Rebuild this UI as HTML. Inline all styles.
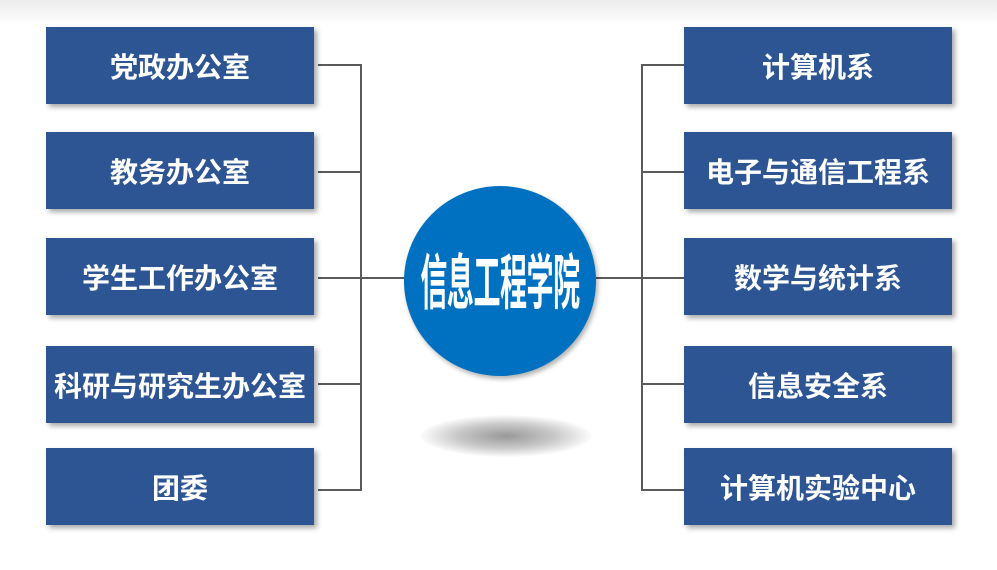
<!DOCTYPE html>
<html><head><meta charset="utf-8"><style>
body{margin:0;width:997px;height:570px;background:#fff;position:relative;overflow:hidden;font-family:"Liberation Sans","Noto Sans CJK SC",sans-serif}
.top{position:absolute;left:0;top:0;width:997px;height:26px;background:linear-gradient(#ececec,#fff)}
.b{position:absolute;width:268px;height:77px;background:#2d5593;color:#fff;font-weight:bold;font-size:28px;display:flex;align-items:center;justify-content:center;box-shadow:3px 3px 5px rgba(0,0,0,.35);white-space:nowrap}
.l{left:46px}.r{left:684px}
.c{position:absolute;left:404px;top:186px;width:192px;height:190px;border-radius:50%;background:#0070c0;box-shadow:2px 3px 5px rgba(0,0,0,.3)}
.ct{position:absolute;left:200px;top:249px;width:600px;text-align:center;color:#fff;font-weight:bold;font-size:60px;line-height:70px;white-space:nowrap}
.ct span{display:inline-block;transform:scaleX(.45);letter-spacing:-1px}
.sh{position:absolute;left:420px;top:415px;width:172px;height:42px;border-radius:50%;background:radial-gradient(ellipse at center,#999 0%,#c8c8c8 40%,rgba(255,255,255,0) 72%)}
</style></head><body>
<div class="top"></div>
<svg width="997" height="570" style="position:absolute;left:0;top:0" fill="none" stroke="#5a5a5a" stroke-width="2">
<path d="M318 65H361M318 172H361M318 278H361M318 384H361M318 490H361M361 64V491M361 278H404"/>
<path d="M684 65H642M684 172H642M684 278H642M684 384H642M684 490H642M642 64V491M642 278H596"/>
</svg>
<div class="b l" style="top:27px">党政办公室</div>
<div class="b l" style="top:132px">教务办公室</div>
<div class="b l" style="top:238px">学生工作办公室</div>
<div class="b l" style="top:346px">科研与研究生办公室</div>
<div class="b l" style="top:448px">团委</div>
<div class="b r" style="top:27px">计算机系</div>
<div class="b r" style="top:132px">电子与通信工程系</div>
<div class="b r" style="top:238px">数学与统计系</div>
<div class="b r" style="top:346px">信息安全系</div>
<div class="b r" style="top:448px">计算机实验中心</div>
<div class="sh"></div>
<div class="c"></div>
<div class="ct"><span>信息工程学院</span></div>
</body></html>
